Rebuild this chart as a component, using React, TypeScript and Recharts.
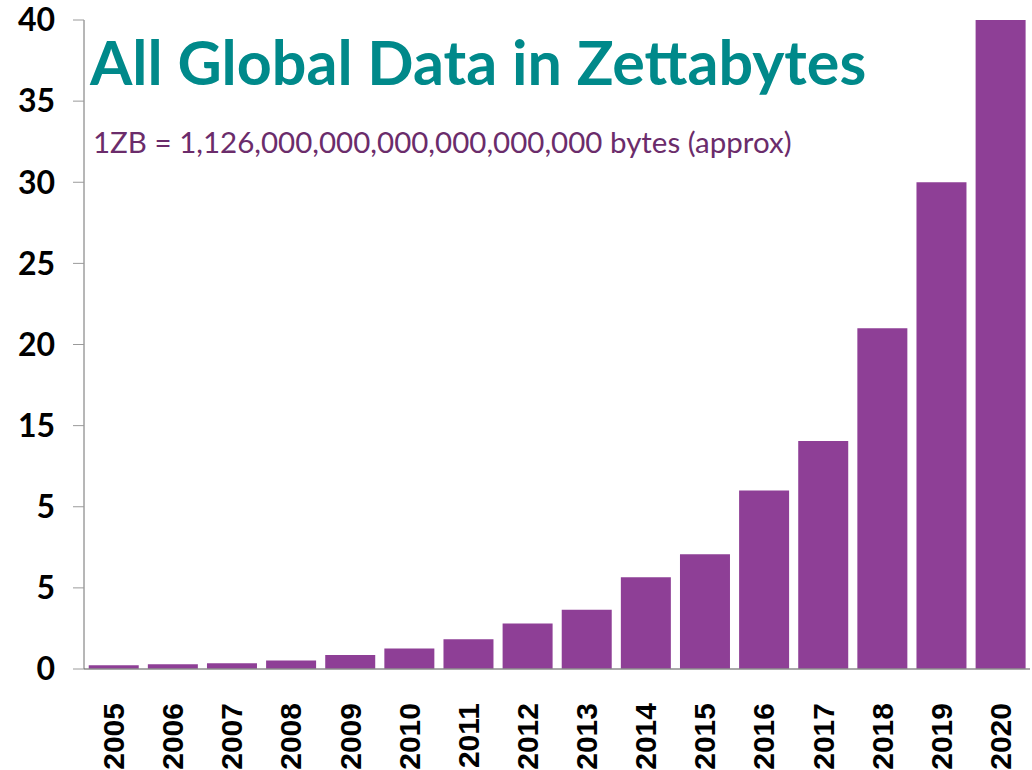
import React from "react";
import { BarChart, Bar, XAxis, YAxis } from "recharts";

const years = [
  "2005", "2006", "2007", "2008", "2009", "2010", "2011", "2012",
  "2013", "2014", "2015", "2016", "2017", "2018", "2019", "2020",
];
const zettabytes = [
  0.23, 0.3, 0.35, 0.52, 0.86, 1.26, 1.83, 2.8,
  3.65, 5.65, 7.07, 11.0, 14.05, 21.0, 30.0, 40.0,
];
const yTicks = [0, 5, 10, 15, 20, 25, 30, 35, 40];
// the source chart labels the 10 tick as "5"
const yTickLabels = ["0", "5", "5", "15", "20", "25", "30", "35", "40"];

const data = years.map((year, i) => ({ year, value: zettabytes[i] }));

const YearTick = (props: any) => {
  const { x, y, payload } = props;
  return (
    <text
      transform={`translate(${x + 10.5},${y + 26}) rotate(-90)`}
      textAnchor="end"
      fontFamily="'Liberation Sans', Arial, sans-serif"
      fontWeight={700}
      fontSize={30}
      fill="#000"
    >
      {payload.value}
    </text>
  );
};

const App: React.FC = () => {
  return (
    <div
      style={{
        position: "absolute",
        left: 0,
        top: 0,
        width: 1032,
        height: 770,
        background: "#fff",
        overflow: "hidden",
      }}
    >
      <BarChart
        width={1032}
        height={770}
        data={data}
        margin={{ top: 20, right: 2, bottom: 0, left: 0 }}
        barCategoryGap="8%"
      >
        <XAxis
          dataKey="year"
          height={101}
          interval={0}
          tickLine={false}
          axisLine={{ stroke: "#8c8c8c", strokeWidth: 1.5 }}
          tick={<YearTick />}
        />
        <YAxis
          width={84}
          domain={[0, 40]}
          ticks={yTicks}
          interval={0}
          tickSize={11}
          tickMargin={18}
          tickLine={{ stroke: "#9a9a9a" }}
          axisLine={{ stroke: "#6e6e6e" }}
          tickFormatter={(v: number) => yTickLabels[yTicks.indexOf(v)]}
          tick={{
            fill: "#000",
            fontFamily: "Lato, 'Open Sans', sans-serif",
            fontWeight: 700,
            fontSize: 32,
          }}
        />
        <Bar dataKey="value" fill="#8e3f96" isAnimationActive={false} />
      </BarChart>
      <div
        style={{
          position: "absolute",
          left: 90,
          top: 31,
          fontFamily: "Lato, 'Open Sans', sans-serif",
          fontWeight: 700,
          fontSize: 61,
          color: "#00898a",
          whiteSpace: "nowrap",
          lineHeight: 1,
        }}
      >
        All Global Data in Zettabytes
      </div>
      <div
        style={{
          position: "absolute",
          left: 93,
          top: 127,
          fontFamily: "Lato, 'Open Sans', sans-serif",
          fontSize: 29.5,
          color: "#6b2c6b",
          whiteSpace: "nowrap",
          lineHeight: 1,
        }}
      >
        1ZB = 1,126,000,000,000,000,000,000 bytes (approx)
      </div>
    </div>
  );
};

export default App;
